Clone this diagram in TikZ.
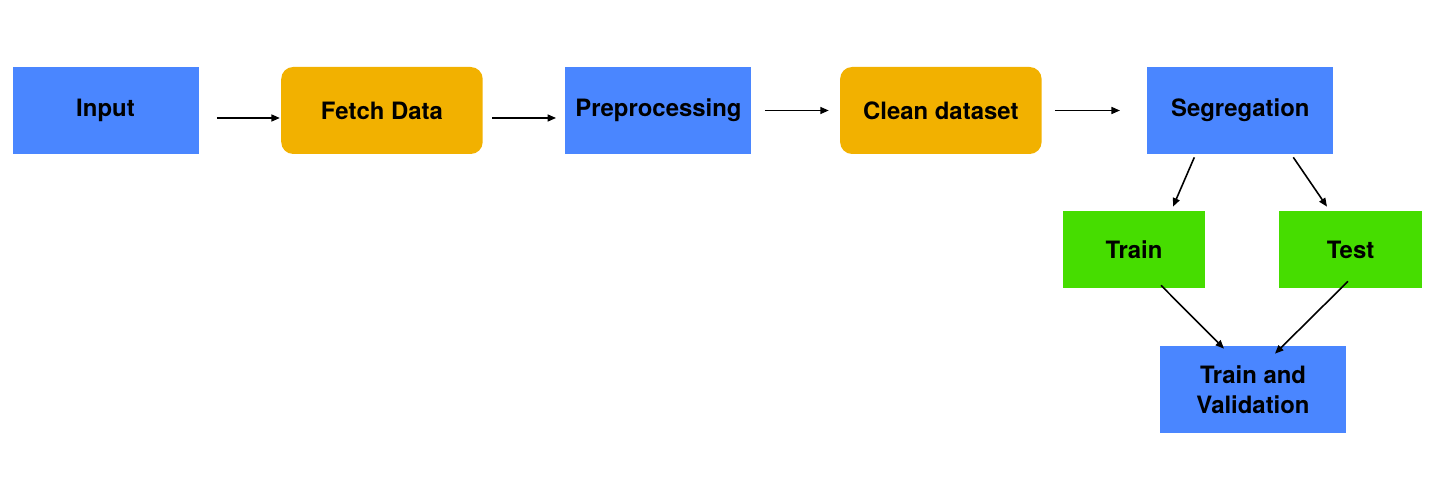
\documentclass[tikz,border=0pt]{standalone}
\usepackage{fontspec}
\setmainfont{TeX Gyre Heros}
\usepackage{tikz}
\usetikzlibrary{arrows.meta, positioning}

\definecolor{boxblue}{RGB}{74,134,255}
\definecolor{boxorange}{RGB}{242,177,0}
\definecolor{boxgreen}{RGB}{70,221,0}

\begin{document}
\begin{tikzpicture}[
    box/.style={rectangle, minimum height=1.74cm, inner sep=2pt, align=center,
                font=\fontsize{13.6}{17}\selectfont\bfseries},
    bluebox/.style={box, fill=boxblue, minimum width=3.72cm},
    orangebox/.style={box, fill=boxorange, rounded corners=0.24cm, minimum width=4.03cm},
    greenbox/.style={box, fill=boxgreen, minimum width=2.85cm, minimum height=1.54cm},
    arr/.style={-{Triangle[length=0.17cm, width=0.14cm]}, line width=0.9pt}
]
\useasboundingbox (0,0) rectangle (28.68,-9.54);

% Top row
\node[bluebox] (input) at (2.11,-2.21) {Input};
\node[orangebox, right=1.64cm of input] (fetch) {Fetch Data};
\node[bluebox, right=1.64cm of fetch] (prep) {Preprocessing};
\node[orangebox, right=1.76cm of prep] (clean) {Clean dataset};
\node[bluebox, right=2.1cm of clean] (seg) {Segregation};

% Split
\node[greenbox] (train) at (22.68,-4.99) {Train};
\node[greenbox] (test) at (27.01,-4.99) {Test};
\node[bluebox] (trval) at (25.06,-7.79) {Train and\\Validation};

\draw[arr, shorten <=0.36cm, shorten >=0.02cm] ([yshift=-0.15cm]input.east) -- ([yshift=-0.15cm]fetch.west);
\draw[arr, shorten <=0.18cm, shorten >=0.18cm] ([yshift=-0.15cm]fetch.east) -- ([yshift=-0.15cm]prep.west);
\draw[arr, shorten <=0.26cm, shorten >=0.22cm] (prep) -- (clean);
\draw[arr, shorten <=0.26cm, shorten >=0.54cm] (clean) -- (seg);

\draw[arr] ([shift={(-0.92,-0.06)}]seg.south) -- ([shift={(0.78,0.08)}]train.north);
\draw[arr] ([shift={(1.06,-0.06)}]seg.south) -- ([shift={(-0.47,0.08)}]test.north);
\draw[arr] ([shift={(0.54,0.06)}]train.south) -- ([shift={(-0.58,-0.06)}]trval.north);
\draw[arr] ([shift={(-0.05,0.14)}]test.south) -- ([shift={(0.44,-0.16)}]trval.north);

\end{tikzpicture}
\end{document}
